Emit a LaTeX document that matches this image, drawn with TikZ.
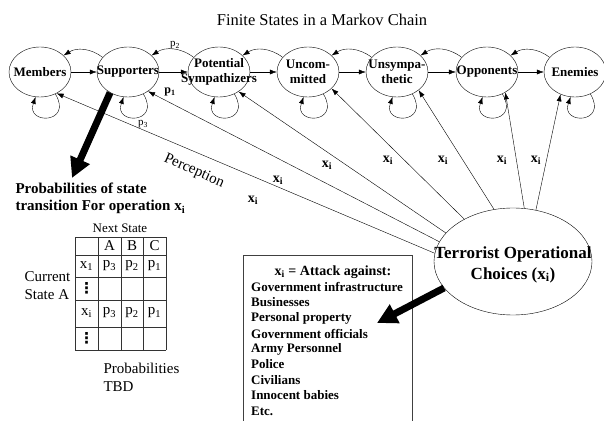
\documentclass[tikz,border=0pt]{standalone}
\usepackage{fontspec}
\setmainfont{Liberation Serif}
\newfontfamily\symfont{DejaVu Sans}
\usetikzlibrary{shapes.geometric, arrows.meta}

\begin{document}
\begin{tikzpicture}[x=1pt, y=1pt,
  state/.style={ellipse, draw, minimum width=62pt, minimum height=50pt, inner sep=0pt},
  statetext/.style={font=\fontsize{13}{15}\selectfont\bfseries, align=center},
  tr/.style={-{Latex[length=7pt,width=5pt]}},
  bigarrow/.style={line width=7pt, -{Triangle[length=20pt,width=20pt]}},
  xi/.style={font=\fontsize{14}{16}\selectfont\bfseries},
  cell/.style={font=\fontsize{15}{17}\selectfont, inner sep=0.5pt},
  item/.style={font=\fontsize{13}{15}\selectfont\bfseries, anchor=west, inner sep=0pt}]
  \useasboundingbox (0,0) rectangle (604,420);
  \node (title) at (322,400) [font=\fontsize{16.5}{19}\selectfont] {Finite States in a Markov Chain};
  % the seven states
  \foreach \x/\n/\t in {40/1/Members, 128/2/Supporters, 219/3/{Potential\\Sympathizers},
    308/4/{Uncom-\\mitted}, 397/5/{Unsympa-\\thetic}, 487/6/Opponents, 575/7/Enemies}
  {
    \node (s\n) at (\x,348) [state] {};
    \node (t\n) at (s\n) [statetext] {\t};
    \draw[tr] (s\n.-55) .. controls +(18,-30) and +(-10,-28) .. (s\n.-100);
  }
  \foreach \a/\b in {1/2, 2/3, 3/4, 4/5, 5/6, 6/7}
  {
    \draw[tr] (s\a) -- (s\b);
    \draw[tr] (s\b.150) to[bend right=35] (s\a.35);
  }
  \node (p2) at (175,375) [font=\fontsize{11}{13}\selectfont] {p\textsubscript{2}};
  \node (p1) at (170,328) [font=\fontsize{12}{14}\selectfont\bfseries] {p\textsubscript{1}};
  \node (p3) at (143,296) [font=\fontsize{11}{13}\selectfont] {p\textsubscript{3}};

  % terrorist choices
  \node (toc) at (513,158.5) [ellipse, draw, minimum width=158pt, minimum height=107pt, inner sep=0pt] {};
  \node (toctext) at (513,155.5) [font=\fontsize{17}{21}\selectfont\bfseries, align=center]
    {Terrorist Operational\\Choices (x\textsubscript{i})};
  \foreach \n/\a/\b in {1/174/-52, 2/165/-44, 3/157/-45, 4/139/-35, 5/110/-40, 6/78/-48, 7/66/-123}
  \draw[tr] (toc.\a) -- (s\n.\b);
  \foreach \x/\y [count=\k] in {253/220, 278/240, 327/255, 388/260, 443/260, 502/260, 536/260}
  \node (x\k) at (\x,\y) [xi] {x\textsubscript{i}};
  \node (perc) at (194,249) [rotate=-24, font=\fontsize{15}{17}\selectfont] {Perception};

  % transition table
  \coordinate (probtip) at (72,242);
  \draw[bigarrow] (s2.-131) -- (probtip);
  \node (prob) at (12,221.5) [anchor=west, align=left, font=\fontsize{15}{17}\selectfont\bfseries]
    {Probabilities of state\\transition For operation x\textsubscript{i}};
  \node (next) at (120,192) [font=\fontsize{13}{15}\selectfont] {Next State};
  \foreach \x in {75, 98, 121, 143, 166}
  \draw[black!80, line width=0.9pt] (\x,70) -- (\x,183);
  \foreach \y in {70, 93, 120, 143, 165, 183}
  \draw[black!80, line width=0.9pt] (75,\y) -- (166,\y);
  \foreach \x/\t in {109.5/A, 132/B, 154.5/C}
  \node at (\x,174) [cell] {\t};
  \foreach \y/\s in {154/1, 107/i}
  {
    \node at (86.5,\y) [cell] {x\textsubscript{\s}};
    \node at (109.5,\y) [cell] {p\textsubscript{3}};
    \node at (132,\y) [cell] {p\textsubscript{2}};
    \node at (154.5,\y) [cell] {p\textsubscript{1}};
  }
  \foreach \y in {131.5, 81.5}
  \node at (86.5,\y) [cell, font=\symfont\bfseries\fontsize{15}{17}\selectfont] {⋮};
  \node (cur) at (21,134) [anchor=west, align=left, font=\fontsize{15}{18}\selectfont]
    {Current\\State A};
  \node (tbd) at (100,43) [anchor=west, align=left, font=\fontsize{15}{18}\selectfont]
    {Probabilities\\TBD};

  % attack targets
  \draw[black!75, line width=0.9pt] (243,-5) rectangle (412,165);
  \node (atk) at (333,148) [font=\fontsize{14}{16}\selectfont\bfseries] {x\textsubscript{i} = Attack against:};
  \foreach \t [count=\k] in {Government infrastructure, Businesses, Personal property,
    Government officials, Army Personnel, Police, Civilians, Innocent babies, Etc.}
  \node (item\k) at (251,{133-(\k-1)*15.5}) [item] {\t};
  \coordinate (atktip) at (377,97);
  \draw[bigarrow] (toc.-159) -- (atktip);
\end{tikzpicture}
\end{document}
